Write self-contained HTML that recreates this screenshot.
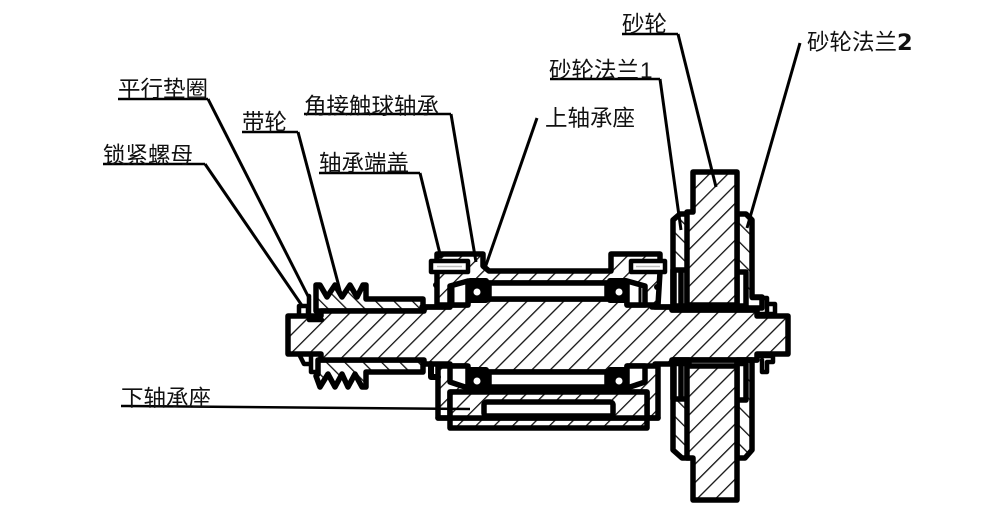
<!DOCTYPE html>
<html><head><meta charset="utf-8"><style>
html,body{margin:0;padding:0;background:#fff}
svg{display:block}
text{font-family:"Liberation Sans","Noto Sans CJK SC",sans-serif;font-size:22.5px;fill:#111}
.o{fill:none;stroke:#000;stroke-width:5.5;stroke-linejoin:round;stroke-linecap:round}
.w{fill:#fff;stroke:#000;stroke-width:5.5;stroke-linejoin:round}
.h{fill:url(#hat);stroke:#000;stroke-width:5.5;stroke-linejoin:round}
.k{fill:url(#hat2);stroke:#000;stroke-width:5.5;stroke-linejoin:round}
.l{fill:none;stroke:#000;stroke-width:3}
.u{fill:none;stroke:#000;stroke-width:2.5}
</style></head><body>
<svg width="988" height="520" viewBox="0 0 988 520" xmlns="http://www.w3.org/2000/svg">
<defs>
<pattern id="hat" width="13" height="13" patternUnits="userSpaceOnUse" patternTransform="rotate(45)"><rect width="13" height="13" fill="#fff"/><rect x="0" y="0" width="1.3" height="13" fill="#111"/></pattern>
<pattern id="hat2" width="13" height="13" patternUnits="userSpaceOnUse" patternTransform="rotate(-45)"><rect width="13" height="13" fill="#fff"/><rect x="0" y="0" width="1.3" height="13" fill="#111"/></pattern>
</defs>

<!-- pulley -->
<path class="k" d="M316,311 V285 H320 L327,297 L335,285 L342,297 L350,285 L357,297 L363,285 H366 V299 H423 V311 Z"/>
<path class="k" d="M318,360 V374 L316,376 L320,387 L328,374 L335,387 L342,374 L348,387 L355,374 L362,387 H366 V372 H423 V360 Z"/>

<!-- shaft -->
<path class="h" d="M288,316 H321 V311 H424 V307 H450 V299 H655 V307 H672 V310 H757 V316 H788 V354 H757 V360 H672 V364 H655 V372 H450 V364 H424 V360 H321 V354 H288 Z"/>

<!-- lock nut and washer left -->
<path class="o" d="M299,316 V306 H308 V316 M309,296 V320 H322 M299,354 L304,364 H310 M311,356 V372 H318" style="stroke-width:4.5"/>

<!-- upper housing -->
<path class="h" d="M437,305 V254 H483 V266 L489,271 H611 V254 H660 V272 L658,305 H627 V283 H467 V305 Z"/>
<rect class="w" x="431" y="261" width="37" height="11" style="stroke-width:4.5"/>
<rect class="w" x="631" y="261" width="34" height="11" style="stroke-width:4.5"/>
<path d="M437,266.5 H462 M636,266.5 H660" stroke="#bbb" stroke-width="1.5" fill="none"/>
<rect class="w" x="489" y="283" width="118" height="16"/>
<path class="w" d="M450,305 V286 L468,281 V305 Z"/>
<path class="w" d="M645,305 V286 L627,281 V305 Z"/>
<path class="o" d="M453,288 V303 M640,288 V303" style="stroke-width:3"/>

<!-- upper bearings -->
<rect x="467" y="278" width="22" height="25" rx="3" fill="#000"/>
<circle cx="477" cy="292" r="3.500" fill="#fff"/>
<rect x="607" y="278" width="22" height="25" rx="3" fill="#000"/>
<circle cx="619" cy="292" r="3.500" fill="#fff"/>
<circle cx="443" cy="306" r="3.500" fill="#000"/><circle cx="654" cy="306" r="3.500" fill="#000"/>
<circle cx="436" cy="285" r="3" fill="#000"/><circle cx="657" cy="287" r="3" fill="#000"/>
<path class="o" d="M422,307 H450 M652,307 H672"/>

<!-- lower housing -->
<path class="h" d="M438,366 H467 V392 H627 V366 H658 V418 H438 Z"/>
<path class="h" d="M450,392 H647 V428 H450 Z"/>
<path class="o" d="M438,418 H658"/>
<path class="h" d="M450,392 H647 V418 H450 Z"/>
<rect class="w" x="484" y="402" width="129" height="14" rx="3"/>
<rect class="w" x="489" y="372" width="118" height="15"/>
<path class="w" d="M450,366 V382 L468,388 V366 Z"/>
<path class="w" d="M645,366 V382 L627,388 V366 Z"/>
<path class="o" d="M431,364 V377 H438" style="stroke-width:6"/>

<!-- lower bearings -->
<rect x="467" y="367" width="22" height="26" rx="3" fill="#000"/>
<circle cx="477" cy="381" r="3.500" fill="#fff"/>
<rect x="607" y="367" width="22" height="26" rx="3" fill="#000"/>
<circle cx="619" cy="381" r="3.500" fill="#fff"/>

<!-- flanges -->
<path class="k" d="M673,220 L680,214 H689 V306 H673 Z"/>
<path class="w" d="M673,270 H687 V306 H673 Z"/>
<path class="o" d="M674,272 V306 M681,272 V306"/>
<path class="k" d="M737,214 H746 L752,220 V297 H762 V308 H737 Z"/>
<path class="w" d="M737,272 H746 V306 H737 Z"/>
<path class="k" d="M673,360 H689 V458 H682 L673,450 Z"/>
<path class="w" d="M673,362 H687 V399 H673 Z"/>
<path class="o" d="M674,362 V398 M681,362 V398"/>
<path class="k" d="M737,360 H752 V450 L745,458 H737 Z"/>
<path class="w" d="M737,362 H746 V400 H737 Z"/>

<!-- wheel -->
<path class="h" d="M693,172 H737 V305 H687 V212 H693 Z"/>
<path class="h" d="M687,366 H737 V500 H693 V458 H687 Z"/>
<path class="o" d="M672,310 H757 M672,360 H757"/>
<path class="u" d="M674,305 H745 M674,365 H745"/>

<!-- right nut -->
<path class="o" d="M752,298 H767 V312 M767,304 H775 V314 H757 M757,356 H773 V362 H767 V372 H762 V360" style="stroke-width:4.500"/>

<!-- leaders -->
<path class="l" d="M205,164 L303,307"/><path class="u" d="M103,164 H205"/>
<path class="l" d="M208,99 L310,300"/><path class="u" d="M118,99 H208"/>
<path class="l" d="M298,132 L342,298"/><path class="u" d="M242,132 H298"/>
<path class="l" d="M420,173 L441,258"/><path class="u" d="M319,173 H420"/>
<path class="l" d="M451,114 L476,262"/><path class="u" d="M304,114 H451"/>
<path class="l" d="M537,118 L485,268"/>
<path class="l" d="M660,79 L681,230"/><path class="u" d="M550,79 H660"/>
<path class="l" d="M678,34 L716,187"/><path class="u" d="M622,34 H678"/>
<path class="l" d="M800,43 L747,228"/>
<path class="u" d="M121,406 L470,409"/>

<text x="118" y="97">平行垫圈</text>
<text x="242" y="130">带轮</text>
<text x="103" y="163">锁紧螺母</text>
<text x="304" y="114">角接触球轴承</text>
<text x="319" y="171">轴承端盖</text>
<text x="545" y="126">上轴承座</text>
<text x="549" y="78">砂轮法兰<tspan x="640">1</tspan></text>
<text x="622" y="32">砂轮</text>
<text x="807" y="50">砂轮法兰<tspan style="font-family:'DejaVu Sans',sans-serif;font-weight:bold">2</tspan></text>
<text x="121" y="406">下轴承座</text>
</svg>
</body></html>
